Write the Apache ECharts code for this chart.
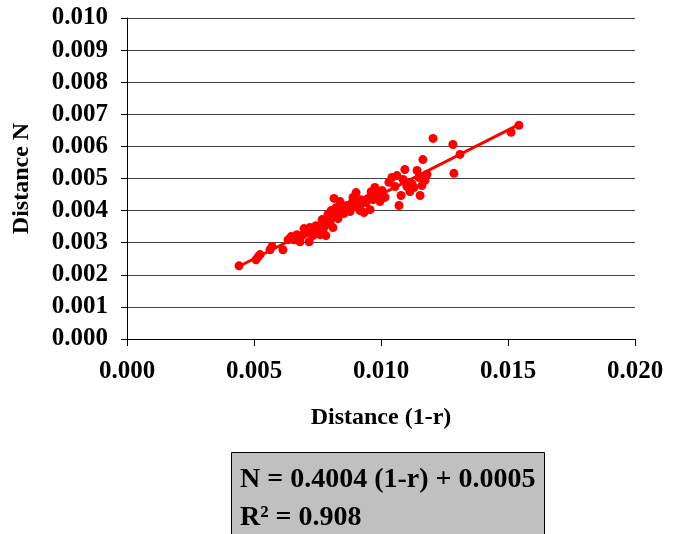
<!DOCTYPE html>
<html>
<head>
<meta charset="utf-8">
<script src="https://cdn.jsdelivr.net/npm/echarts@6/dist/echarts.min.js"></script>
<style>
  html, body { margin: 0; padding: 0; background: #fff; }
  #chart { width: 680px; height: 534px; }
</style>
</head>
<body>
<div id="chart"></div>
<script>
// values
const distR = [
  0.00441, 0.00508, 0.00516, 0.00524, 0.00563, 0.00571, 0.00614, 0.00634, 0.00646, 0.00657,
  0.00669, 0.00681, 0.00689, 0.00697, 0.00709, 0.00717, 0.00720, 0.00732, 0.00740, 0.00744,
  0.00760, 0.00768, 0.00772, 0.00780, 0.00783, 0.00787, 0.00791, 0.00799, 0.00803, 0.00807,
  0.00811, 0.00815, 0.00823, 0.00827, 0.00831, 0.00839, 0.00846, 0.00854, 0.00866, 0.00878,
  0.00886, 0.00890, 0.00898, 0.00902, 0.00909, 0.00917, 0.00921, 0.00925, 0.00933, 0.00941,
  0.00949, 0.00957, 0.00961, 0.00969, 0.00976, 0.00984, 0.00996, 0.01004, 0.01016, 0.01031,
  0.01043, 0.01055, 0.01063, 0.01071, 0.01079, 0.01087, 0.01094, 0.01102, 0.01114, 0.01122,
  0.01130, 0.01142, 0.01150, 0.01154, 0.01161, 0.01165, 0.01173, 0.01181, 0.01205, 0.01283,
  0.01287, 0.01311, 0.01512, 0.01543
];
const distN = [
  0.00228, 0.00247, 0.00256, 0.00263, 0.00278, 0.00288, 0.00278, 0.00309, 0.00319, 0.00309,
  0.00325, 0.00303, 0.00322, 0.00344, 0.00331, 0.00303, 0.00347, 0.00322, 0.00338, 0.00353,
  0.00325, 0.00372, 0.00341, 0.00353, 0.00322, 0.00372, 0.00388, 0.00363, 0.00400, 0.00378,
  0.00347, 0.00438, 0.00409, 0.00391, 0.00375, 0.00428, 0.00403, 0.00391, 0.00416, 0.00397,
  0.00425, 0.00441, 0.00413, 0.00456, 0.00434, 0.00400, 0.00434, 0.00422, 0.00394, 0.00425,
  0.00438, 0.00403, 0.00459, 0.00434, 0.00472, 0.00450, 0.00428, 0.00463, 0.00441, 0.00488,
  0.00503, 0.00475, 0.00509, 0.00416, 0.00447, 0.00497, 0.00528, 0.00475, 0.00459, 0.00484,
  0.00472, 0.00525, 0.00503, 0.00447, 0.00478, 0.00559, 0.00494, 0.00513, 0.00625, 0.00606,
  0.00516, 0.00575, 0.00644, 0.00666
];
// trend line ends
const trendX = [0.0043, 0.0155];
const trendY = [0.00222, 0.00671];
const eqLine1 = 'N = 0.4004 (1-r) + 0.0005';
const eqLine2 = 'R² = 0.908';

const font = '"Liberation Serif", "Times New Roman", serif';
const chart = echarts.init(document.getElementById('chart'));

chart.setOption({
  animation: false,
  grid: { left: 127, right: 45, top: 18, bottom: 195 },
  xAxis: {
    type: 'value', min: 0, max: 0.02, interval: 0.005,
    name: 'Distance (1-r)', nameLocation: 'middle', nameGap: 67,
    nameTextStyle: { fontFamily: font, fontWeight: 'bold', fontSize: 24, color: '#000' },
    axisLine: { lineStyle: { color: '#000', width: 1 } },
    axisTick: { show: true, length: 7, lineStyle: { color: '#000' } },
    axisLabel: { fontFamily: font, fontWeight: 'bold', fontSize: 25, color: '#000', margin: 20,
      formatter: v => v.toFixed(3) },
    splitLine: { show: false }
  },
  yAxis: {
    type: 'value', min: 0, max: 0.01, interval: 0.001,
    name: 'Distance N', nameLocation: 'middle', nameGap: 93, nameRotate: 90,
    nameTextStyle: { fontFamily: font, fontWeight: 'bold', fontSize: 24, color: '#000' },
    axisLine: { show: true, lineStyle: { color: '#000', width: 1 } },
    axisTick: { show: true, length: 6, lineStyle: { color: '#000' } },
    axisLabel: { fontFamily: font, fontWeight: 'bold', fontSize: 25, color: '#000', margin: 19,
      formatter: v => v.toFixed(3) },
    splitLine: { show: true, lineStyle: { color: '#444', width: 1 } }
  },
  series: [
    {
      type: 'line',
      data: trendX.map((x, i) => [x, trendY[i]]),
      symbol: 'none',
      lineStyle: { color: '#ff0000', width: 3 },
      z: 3
    },
    {
      type: 'scatter',
      data: distR.map((x, i) => [x, distN[i]]),
      symbol: 'circle',
      symbolSize: 9,
      itemStyle: { color: '#ff0000', opacity: 1 },
      z: 4
    }
  ],
  graphic: [
    {
      type: 'rect',
      shape: { x: 231.5, y: 452.5, width: 313, height: 90 },
      style: { fill: '#c0c0c0', stroke: '#000', lineWidth: 1 }
    },
    {
      type: 'text', left: 240, top: 466,
      style: { text: eqLine1, font: 'bold 28px ' + font, fill: '#000' }
    },
    {
      type: 'text', left: 240, top: 504,
      style: { text: eqLine2, font: 'bold 28px ' + font, fill: '#000' }
    }
  ]
});
</script>
</body>
</html>
